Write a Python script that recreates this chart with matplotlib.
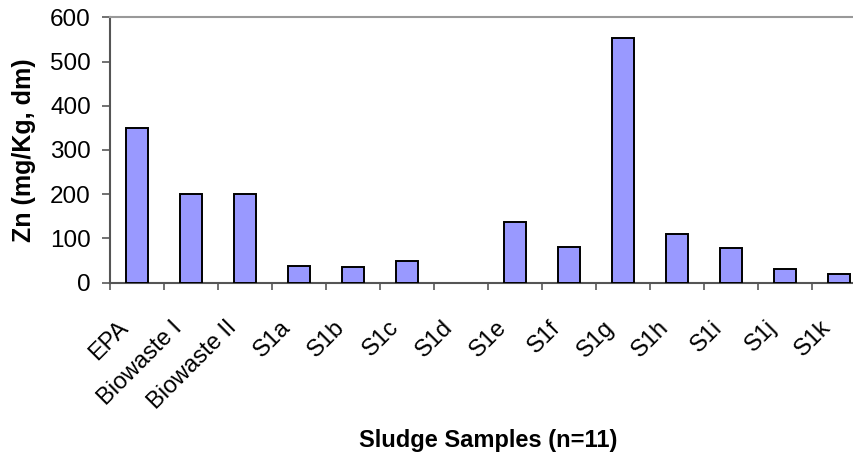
import matplotlib
matplotlib.use('agg')
import matplotlib.pyplot as plt
import matplotlib.transforms as mtransforms
import numpy as np

plt.rcParams['font.family'] = ['Liberation Sans', 'DejaVu Sans']

samples = ['EPA', 'Biowaste I', 'Biowaste II', 'S1a', 'S1b', 'S1c', 'S1d',
           'S1e', 'S1f', 'S1g', 'S1h', 'S1i', 'S1j', 'S1k']
zn = [350, 200, 200, 38, 35, 48, 0, 137, 80, 553, 110, 78, 30, 20]
yticks = [0, 100, 200, 300, 400, 500, 600]

fig = plt.figure(figsize=(8.54, 4.54), dpi=100)
# plot area runs a bit past the right edge, like the cropped original
ax = fig.add_axes([110 / 854, (454 - 282.7) / 454, 756 / 854, 265.4 / 454])

x = np.arange(len(samples))
bars = ax.bar(x, zn, width=0.41, color='#9999ff', edgecolor='black', linewidth=1.4, zorder=3)
for b, v in zip(bars, zn):
    if v == 0:
        b.set_edgecolor('none')

ax.set_xlim(-0.5, len(samples) - 0.5)
ax.set_ylim(0, 600)
ax.set_yticks(yticks)
ax.set_yticklabels([str(v) for v in yticks], fontsize=17.5)

# ticks between categories, labels at centres
ax.set_xticks(np.arange(len(samples) + 1) - 0.5)
ax.set_xticklabels([])
ax.set_xticks(x, minor=True)
ax.set_xticklabels(samples, minor=True, rotation=45, ha='right', va='center',
                   rotation_mode='anchor', fontsize=17)
ax.tick_params(axis='x', which='minor', length=0, pad=30)
ax.tick_params(axis='x', which='major', length=5, width=1.3, color='#666666', direction='out')
ax.tick_params(axis='y', length=5.8, width=1.3, color='#666666', direction='out', pad=8)

# nudge the slanted labels left a little
shift = mtransforms.ScaledTranslation(-12 / 100, 0, fig.dpi_scale_trans)
for lab in ax.get_xticklabels(minor=True):
    lab.set_transform(lab.get_transform() + shift)

for side in ['left', 'bottom']:
    ax.spines[side].set_color('#555555')
    ax.spines[side].set_linewidth(1.5)
for side in ['top', 'right']:
    ax.spines[side].set_color('#999999')
    ax.spines[side].set_linewidth(1.5)

ax.set_ylabel('Zn (mg/Kg, dm)', fontsize=18, fontweight='bold')
ax.yaxis.set_label_coords(-0.098, 0.5)
ax.set_xlabel('Sludge Samples (n=11)', fontsize=17, fontweight='bold')
ax.xaxis.set_label_coords(0.5, -0.55)

fig.savefig('out.png', dpi=100)
